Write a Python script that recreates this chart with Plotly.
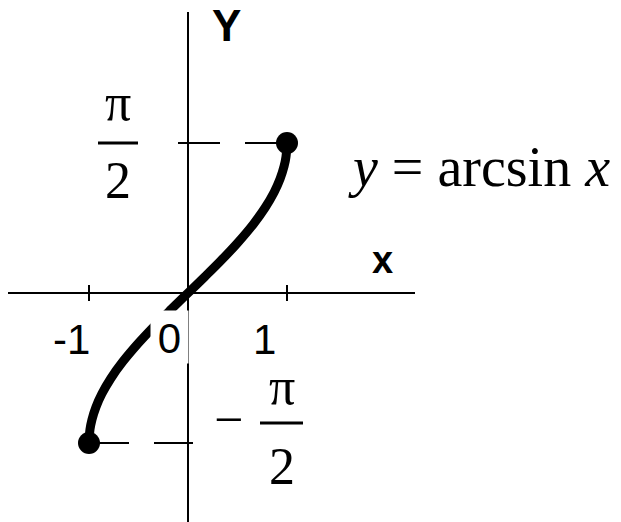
import plotly.graph_objects as go

W, H = 621, 522

# points along y = arcsin x (x, y)
curve_x = [-1.0, -0.99, -0.97, -0.93, -0.87, -0.78, -0.66, -0.5, -0.33, -0.17, 0.0,
           0.17, 0.33, 0.5, 0.66, 0.78, 0.87, 0.93, 0.97, 0.99, 1.0]
curve_y = [-1.571, -1.429, -1.325, -1.194, -1.055, -0.895, -0.721, -0.524, -0.336, -0.171, 0.0,
           0.171, 0.336, 0.524, 0.721, 0.895, 1.055, 1.194, 1.325, 1.429, 1.571]

# closed end points of the graph
end_x = [-1.0, 1.0]
end_y = [-1.571, 1.571]

# x tick positions and labels
tick_vals = [-1, 1]
tick_text = ["-1", "1"]
origin_text = "0"

HALF_PI = 1.571

# axis geometry: origin pixel and pixels per unit
OX, OY = 188, 293
SX, SY = 99.0, 95.5
x_range = [-OX / SX, (W - OX) / SX]
y_range = [-(H - OY) / SY, OY / SY]

SANS = "Liberation Sans Narrow, Liberation Sans, Arial, sans-serif"
SERIF = "Liberation Serif, Times New Roman, serif"


def px(x):
    return x / W


def py(y):
    return 1 - y / H


fig = go.Figure()

fig.add_trace(go.Scatter(
    x=curve_x, y=curve_y, mode="lines",
    line=dict(color="black", width=9, shape="spline"),
    hoverinfo="skip", showlegend=False,
))
fig.add_trace(go.Scatter(
    x=end_x, y=end_y, mode="markers",
    marker=dict(color="black", size=22),
    hoverinfo="skip", showlegend=False,
))

shapes = []
# coordinate axes
shapes.append(dict(type="line", layer="below", x0=0, x1=0,
                   y0=y_range[0], y1=(OY - 12) / SY,
                   line=dict(color="black", width=2)))
shapes.append(dict(type="line", layer="below", x0=(8 - OX) / SX, x1=(415 - OX) / SX,
                   y0=0, y1=0, line=dict(color="black", width=2)))
# x ticks
for tv in tick_vals:
    shapes.append(dict(type="line", layer="below", x0=tv, x1=tv,
                       y0=-8 / SY, y1=8 / SY, line=dict(color="black", width=2)))
# dashed guides to the end points
shapes.append(dict(type="line", layer="below", x0=end_x[1], x1=(175 - OX) / SX,
                   y0=end_y[1], y1=end_y[1],
                   line=dict(color="black", width=2, dash="42px,25px")))
shapes.append(dict(type="line", layer="below", x0=end_x[0], x1=(193 - OX) / SX,
                   y0=end_y[0], y1=end_y[0],
                   line=dict(color="black", width=2, dash="40px,25px")))
# fraction bars for ±π/2
shapes.append(dict(type="line", layer="below", x0=(98 - OX) / SX, x1=(138 - OX) / SX,
                   y0=HALF_PI, y1=HALF_PI, line=dict(color="black", width=3)))
shapes.append(dict(type="line", layer="below", x0=(260 - OX) / SX, x1=(303 - OX) / SX,
                   y0=-HALF_PI + 20 / SY, y1=-HALF_PI + 20 / SY,
                   line=dict(color="black", width=3)))

ann = []
# tick labels
ann.append(dict(x=px(71), y=py(340), text=tick_text[0]))
ann.append(dict(x=px(264), y=py(340), text=tick_text[1]))
for a in ann:
    a.update(xref="paper", yref="paper", showarrow=False,
             font=dict(family=SANS, size=42, color="black"))
# origin label with a white background over the curve
ann.append(dict(x=px(150), y=py(310), xref="paper", yref="paper", showarrow=False,
                text=origin_text, xanchor="left", yanchor="top",
                width=35, height=50, bgcolor="white", valign="bottom", align="center",
                font=dict(family=SANS, size=42, color="black")))
# axis names
ann.append(dict(x=px(226), y=py(26), xref="paper", yref="paper", showarrow=False,
                text="<b>Y</b>", font=dict(family="Liberation Sans, Arial", size=44, color="black")))
ann.append(dict(x=px(382), y=py(260), xref="paper", yref="paper", showarrow=False,
                text="<b>x</b>", font=dict(family="Liberation Sans, Arial", size=38, color="black")))
# π/2 labels
ann.append(dict(x=(118 - OX) / SX, y=HALF_PI, yshift=40, text="π"))
ann.append(dict(x=(118 - OX) / SX, y=HALF_PI, yshift=-38, text="2"))
ann.append(dict(x=(228 - OX) / SX, y=-HALF_PI, yshift=24, text="−"))
ann.append(dict(x=(282 - OX) / SX, y=-HALF_PI, yshift=57, text="π"))
ann.append(dict(x=(282 - OX) / SX, y=-HALF_PI, yshift=-23, text="2"))
for a in ann[-5:]:
    a.update(xref="x", yref="y", showarrow=False,
             font=dict(family=SERIF, size=52, color="black"))
# function name
ann.append(dict(x=px(479), y=py(167), xref="paper", yref="paper", showarrow=False,
                text="<i>y</i> = arcsin <i>x</i>",
                font=dict(family=SERIF, size=56, color="black")))

for a in ann:
    a.setdefault("xanchor", "center")
    a.setdefault("yanchor", "middle")

fig.update_layout(
    width=W, height=H,
    margin=dict(l=0, r=0, t=0, b=0),
    paper_bgcolor="white", plot_bgcolor="white",
    xaxis=dict(range=x_range, visible=False, fixedrange=True),
    yaxis=dict(range=y_range, visible=False, fixedrange=True),
    shapes=shapes, annotations=ann,
)

fig.write_html("out.html")
